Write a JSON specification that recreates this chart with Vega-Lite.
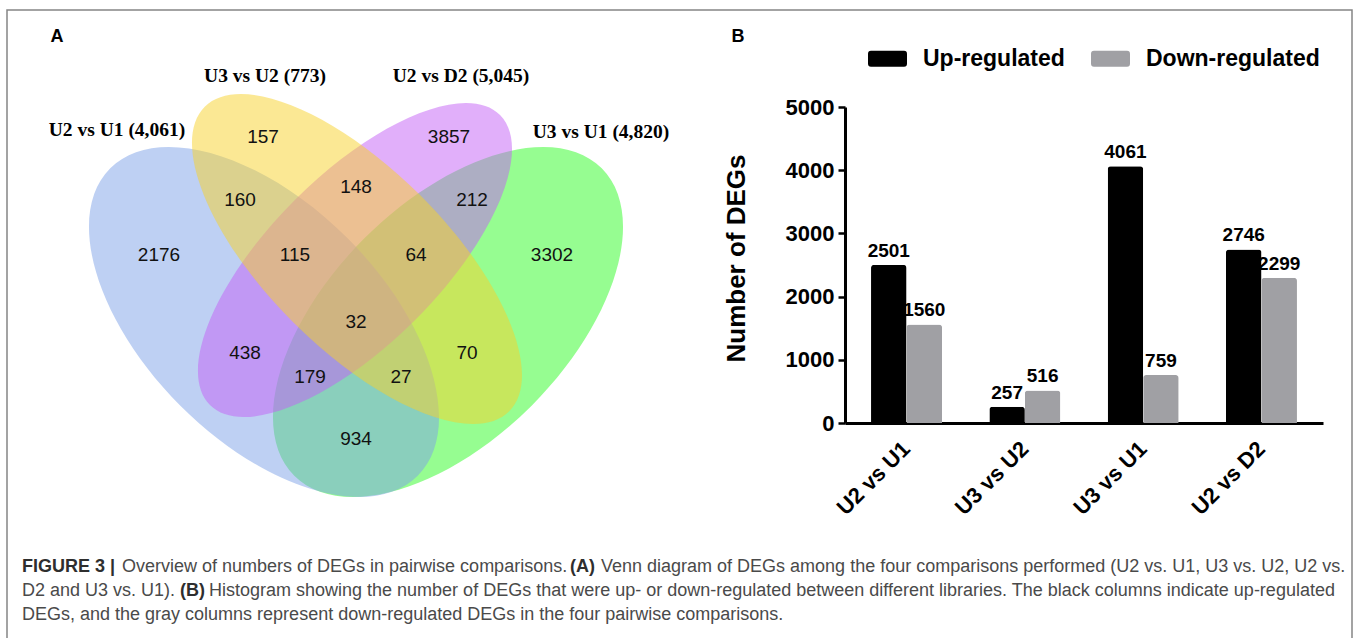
{
 "$schema": "https://vega.github.io/schema/vega-lite/v6.json",
 "width": 1345,
 "height": 631,
 "autosize": {"type": "none"},
 "padding": {"left": 7, "top": 10, "right": 5, "bottom": -3},
 "background": "white",
 "config": {"view": {"stroke": "#858585", "strokeWidth": 1.5}, "font": "Liberation Sans"},
 "datasets": {
  "ellipses": [
   {"set": "U3 vs U1", "x": 448, "y": 322, "ang": -45},
   {"set": "U2 vs U1", "x": 264, "y": 322, "ang": 45},
   {"set": "U2 vs D2", "x": 355, "y": 260, "ang": -45},
   {"set": "U3 vs U2", "x": 357, "y": 259, "ang": 45}
  ],
  "regions": [
   {"count": 157, "x": 263, "y": 137},
   {"count": 3857, "x": 449, "y": 137},
   {"count": 160, "x": 240, "y": 200},
   {"count": 148, "x": 356, "y": 187},
   {"count": 212, "x": 472, "y": 200},
   {"count": 2176, "x": 159, "y": 255},
   {"count": 115, "x": 295, "y": 255},
   {"count": 64, "x": 416, "y": 255},
   {"count": 3302, "x": 552, "y": 255},
   {"count": 32, "x": 356, "y": 322},
   {"count": 438, "x": 245, "y": 353},
   {"count": 70, "x": 467, "y": 353},
   {"count": 179, "x": 310, "y": 377},
   {"count": 27, "x": 401, "y": 377},
   {"count": 934, "x": 356, "y": 439}
  ],
  "setlabels": [
   {"label": "U2 vs U1 (4,061)", "x": 117, "y": 130},
   {"label": "U3 vs U2 (773)", "x": 265, "y": 76},
   {"label": "U2 vs D2 (5,045)", "x": 461, "y": 76},
   {"label": "U3 vs U1 (4,820)", "x": 601, "y": 132}
  ],
  "letters": [
   {"t": "A", "x": 57, "y": 37},
   {"t": "B", "x": 738, "y": 37}
  ],
  "capnormal": [
   {"t": "Overview of numbers of DEGs in pairwise comparisons.", "x": 122, "y": 567},
   {"t": "Venn diagram of DEGs among the four comparisons performed (U2 vs. U1, U3 vs. U2, U2 vs.", "x": 601, "y": 567},
   {"t": "D2 and U3 vs. U1).", "x": 22, "y": 591},
   {"t": "Histogram showing the number of DEGs that were up- or down-regulated between different libraries. The black columns indicate up-regulated", "x": 209, "y": 591},
   {"t": "DEGs, and the gray columns represent down-regulated DEGs in the four pairwise comparisons.", "x": 22, "y": 615}
  ],
  "capbold": [
   {"t": "FIGURE 3 |", "x": 22, "y": 567},
   {"t": "(A)", "x": 570, "y": 567},
   {"t": "(B)", "x": 180, "y": 591}
  ],
  "bars": [
   {"grp": "U2 vs U1", "reg": "Up-regulated", "n": 2501},
   {"grp": "U2 vs U1", "reg": "Down-regulated", "n": 1560},
   {"grp": "U3 vs U2", "reg": "Up-regulated", "n": 257},
   {"grp": "U3 vs U2", "reg": "Down-regulated", "n": 516},
   {"grp": "U3 vs U1", "reg": "Up-regulated", "n": 4061},
   {"grp": "U3 vs U1", "reg": "Down-regulated", "n": 759},
   {"grp": "U2 vs D2", "reg": "Up-regulated", "n": 2746},
   {"grp": "U2 vs D2", "reg": "Down-regulated", "n": 2299}
  ]
 },
 "layer": [
  {
   "encoding": {
    "x": {"field": "x", "type": "quantitative", "scale": {"domain": [0, 1357], "range": [-7, 1350], "nice": false, "zero": false}, "axis": null},
    "y": {"field": "y", "type": "quantitative", "scale": {"domain": [0, 638], "range": [-10, 628], "nice": false, "zero": false}, "axis": null}
   },
   "layer": [
    {
     "data": {"name": "ellipses"},
     "transform": [{"filter": "datum.set == 'U3 vs U1' || datum.set == 'U2 vs U1'"}],
     "mark": {"type": "point", "filled": true, "opacity": 0.5, "strokeWidth": 0, "size": 189048,
      "shape": "M1,0C1,0.3004 0.5523,0.544 0,0.544C-0.5523,0.544 -1,0.3004 -1,0C-1,-0.3004 -0.5523,-0.544 0,-0.544C0.5523,-0.544 1,-0.3004 1,0Z"},
     "encoding": {
      "angle": {"field": "ang", "type": "quantitative", "scale": null},
      "color": {"field": "set", "type": "nominal", "scale": {"domain": ["U2 vs U1", "U3 vs U2", "U2 vs D2", "U3 vs U1"], "range": ["#7da1e7", "#f7d129", "#c35ff5", "#2dfb23"]}, "legend": null}
     }
    },
    {
     "data": {"name": "ellipses"},
     "transform": [{"filter": "datum.set == 'U2 vs D2'"}],
     "mark": {"type": "point", "filled": true, "opacity": 0.5, "strokeWidth": 0, "size": 168264,
      "shape": "M1,0C1,0.2289 0.5523,0.4144 0,0.4144C-0.5523,0.4144 -1,0.2289 -1,0C-1,-0.2289 -0.5523,-0.4144 0,-0.4144C0.5523,-0.4144 1,-0.2289 1,0Z"},
     "encoding": {
      "angle": {"field": "ang", "type": "quantitative", "scale": null},
      "color": {"field": "set", "type": "nominal", "scale": {"domain": ["U2 vs U1", "U3 vs U2", "U2 vs D2", "U3 vs U1"], "range": ["#7da1e7", "#f7d129", "#c35ff5", "#2dfb23"]}, "legend": null}
     }
    },
    {
     "data": {"name": "ellipses"},
     "transform": [{"filter": "datum.set == 'U3 vs U2'"}],
     "mark": {"type": "point", "filled": true, "opacity": 0.5, "strokeWidth": 0, "size": 185416,
      "shape": "M1,0C1,0.2306 0.5523,0.4176 0,0.4176C-0.5523,0.4176 -1,0.2306 -1,0C-1,-0.2306 -0.5523,-0.4176 0,-0.4176C0.5523,-0.4176 1,-0.2306 1,0Z"},
     "encoding": {
      "angle": {"field": "ang", "type": "quantitative", "scale": null},
      "color": {"field": "set", "type": "nominal", "scale": {"domain": ["U2 vs U1", "U3 vs U2", "U2 vs D2", "U3 vs U1"], "range": ["#7da1e7", "#f7d129", "#c35ff5", "#2dfb23"]}, "legend": null}
     }
    },
    {
     "data": {"name": "regions"},
     "mark": {"type": "text", "align": "center", "baseline": "middle", "fontSize": 19, "color": "#111111", "font": "Liberation Sans"},
     "encoding": {"text": {"field": "count", "type": "quantitative", "format": "d"}}
    },
    {
     "data": {"name": "setlabels"},
     "mark": {"type": "text", "align": "center", "baseline": "middle", "fontSize": 19.5, "fontWeight": "bold", "color": "#000000", "font": "Liberation Serif"},
     "encoding": {"text": {"field": "label", "type": "nominal"}}
    },
    {
     "data": {"name": "letters"},
     "mark": {"type": "text", "align": "center", "baseline": "middle", "fontSize": 18, "fontWeight": "bold", "color": "#000000", "font": "Liberation Sans"},
     "encoding": {"text": {"field": "t", "type": "nominal"}}
    },
    {
     "data": {"name": "capnormal"},
     "mark": {"type": "text", "align": "left", "baseline": "middle", "fontSize": 18, "color": "#4a4a4a", "font": "Liberation Sans"},
     "encoding": {"text": {"field": "t", "type": "nominal"}}
    },
    {
     "data": {"name": "capbold"},
     "mark": {"type": "text", "align": "left", "baseline": "middle", "fontSize": 18, "fontWeight": "bold", "color": "#2e2e2e", "font": "Liberation Sans"},
     "encoding": {"text": {"field": "t", "type": "nominal"}}
    }
   ]
  },
  {
   "data": {"name": "bars"},
   "encoding": {
    "x": {"field": "grp", "type": "nominal", "sort": ["U2 vs U1", "U3 vs U2", "U3 vs U1", "U2 vs D2"],
     "scale": {"range": [838, 1316], "paddingInner": 0.4, "paddingOuter": 0.22},
     "axis": {"orient": "bottom", "offset": -218, "title": null, "ticks": false, "domainColor": "#000000", "domainWidth": 3, "labelAngle": -45, "labelAlign": "right", "labelBaseline": "middle", "labelFont": "Liberation Sans", "labelFontSize": 22, "labelFontWeight": "bold", "labelColor": "#000000", "labelPadding": 22, "grid": false}},
    "xOffset": {"field": "reg", "type": "nominal", "sort": ["Up-regulated", "Down-regulated"], "scale": {"paddingInner": 0, "paddingOuter": 0}},
    "y": {"field": "n", "type": "quantitative", "scale": {"domain": [0, 5000], "range": [413, 97], "nice": false},
     "axis": {"orient": "left", "offset": -838, "values": [0, 1000, 2000, 3000, 4000, 5000], "format": "d", "grid": false, "domainColor": "#000000", "domainWidth": 3, "tickColor": "#000000", "tickWidth": 2.5, "tickSize": 7, "labelFont": "Liberation Sans", "labelFontSize": 22, "labelFontWeight": "bold", "labelColor": "#000000", "labelPadding": 4, "title": "Number of DEGs", "titleFont": "Liberation Sans", "titleFontSize": 26, "titleFontWeight": "bold", "titleColor": "#000000", "titleX": -109, "titleY": 248, "titleAngle": -90, "titleAlign": "center", "titleBaseline": "middle"}}
   },
   "layer": [
    {
     "mark": {"type": "bar", "cornerRadiusEnd": 3},
     "encoding": {
      "color": {"field": "reg", "type": "nominal", "scale": {"domain": ["Up-regulated", "Down-regulated"], "range": ["#000000", "#a0a0a4"]},
       "legend": {"orient": "none", "legendX": 861, "legendY": 29, "direction": "horizontal", "title": null,
        "symbolType": "M-0.85,-0.41L0.85,-0.41Q1,-0.41 1,-0.26L1,0.26Q1,0.41 0.85,0.41L-0.85,0.41Q-1,0.41 -1,0.26L-1,-0.26Q-1,-0.41 -0.85,-0.41Z",
        "symbolSize": 1521, "symbolStrokeWidth": 0, "symbolOpacity": 1, "labelFont": "Liberation Sans", "labelFontSize": 23, "labelFontWeight": "bold", "labelColor": "#000000", "labelOffset": 16, "columnPadding": 26, "labelLimit": 400}}
     }
    },
    {
     "mark": {"type": "text", "baseline": "bottom", "dy": -4, "fontSize": 19, "fontWeight": "bold", "color": "#000000", "font": "Liberation Sans"},
     "encoding": {"text": {"field": "n", "type": "quantitative", "format": "d"}}
    }
   ]
  }
 ],
 "resolve": {
  "scale": {"x": "independent", "y": "independent", "color": "independent"},
  "axis": {"x": "independent", "y": "independent"},
  "legend": {"color": "independent"}
 }
}
